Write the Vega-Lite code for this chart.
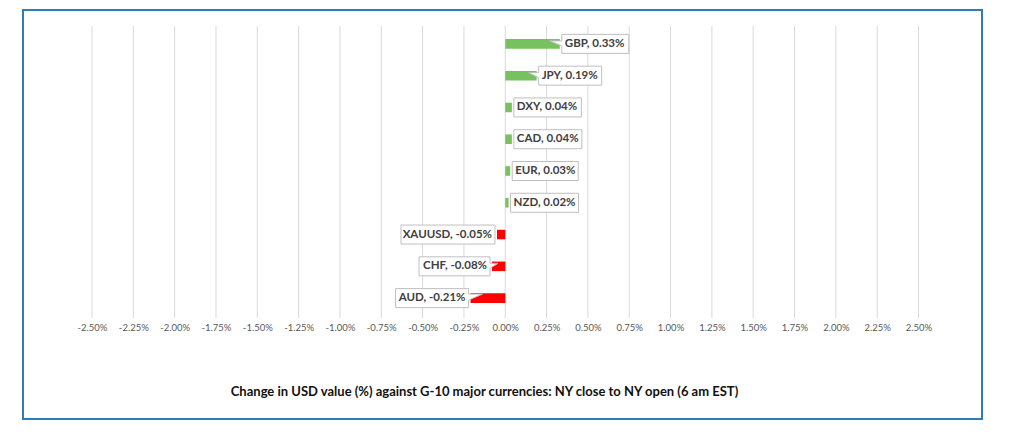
{
  "$schema": "https://vega.github.io/schema/vega-lite/v6.json",
  "width": 959,
  "height": 409,
  "autosize": {"type": "none"},
  "padding": {"left": 23, "top": 10, "right": 42, "bottom": 17},
  "background": "white",
  "config": {
    "view": {"stroke": "#2E7EB3", "strokeWidth": 2, "fill": "white"},
    "font": "Lato"
  },
  "datasets": {
    "fx": [
      {"currency": "GBP", "change": 0.33, "label": "GBP, 0.33%"},
      {"currency": "JPY", "change": 0.19, "label": "JPY, 0.19%"},
      {"currency": "DXY", "change": 0.04, "label": "DXY, 0.04%"},
      {"currency": "CAD", "change": 0.04, "label": "CAD, 0.04%"},
      {"currency": "EUR", "change": 0.03, "label": "EUR, 0.03%"},
      {"currency": "NZD", "change": 0.02, "label": "NZD, 0.02%"},
      {"currency": "XAUUSD", "change": -0.05, "label": "XAUUSD, -0.05%"},
      {"currency": "CHF", "change": -0.08, "label": "CHF, -0.08%"},
      {"currency": "AUD", "change": -0.21, "label": "AUD, -0.21%"}
    ],
    "ticks": [
      {"tick": -2.5}, {"tick": -2.25}, {"tick": -2.0}, {"tick": -1.75}, {"tick": -1.5},
      {"tick": -1.25}, {"tick": -1.0}, {"tick": -0.75}, {"tick": -0.5}, {"tick": -0.25},
      {"tick": 0.0}, {"tick": 0.25}, {"tick": 0.5}, {"tick": 0.75}, {"tick": 1.0},
      {"tick": 1.25}, {"tick": 1.5}, {"tick": 1.75}, {"tick": 2.0}, {"tick": 2.25}, {"tick": 2.5}
    ]
  },
  "resolve": {"scale": {"y": "independent"}},
  "layer": [
    {
      "data": {"name": "ticks"},
      "mark": {"type": "rule", "color": "#D9D9D9", "strokeWidth": 1},
      "encoding": {
        "x": {"field": "tick", "type": "quantitative"},
        "y": {"datum": 0, "type": "quantitative", "scale": {"domain": [0, 1], "range": [16, 308]}, "axis": null},
        "y2": {"datum": 1}
      }
    },
    {
      "layer": [
        {
          "data": {"name": "fx"},
          "mark": {"type": "bar"},
          "encoding": {
            "x": {
              "field": "change",
              "type": "quantitative",
              "scale": {"domain": [-2.5, 2.5], "range": [69, 895.5], "nice": false, "zero": false},
              "axis": {
                "values": [-2.5, -2.25, -2.0, -1.75, -1.5, -1.25, -1.0, -0.75, -0.5, -0.25, 0, 0.25, 0.5, 0.75, 1.0, 1.25, 1.5, 1.75, 2.0, 2.25, 2.5],
                "labelExpr": "(datum.value < 0 ? '-' : '') + format(abs(datum.value), '.2f') + '%'",
                "domain": false,
                "ticks": false,
                "tickSize": 0,
                "grid": false,
                "offset": -101,
                "labelPadding": 4,
                "labelFont": "Lato",
                "labelFontSize": 9.5,
                "labelColor": "#595959",
                "labelFlush": false,
                "labelOverlap": false,
                "title": "Change in  USD value (%)  against  G-10 major currencies:  NY close to NY open  (6 am EST)",
                "titleX": 461,
                "titleY": 73,
                "titleAlign": "center",
                "titleBaseline": "middle",
                "titleFont": "Lato",
                "titleFontSize": 13,
                "titleFontWeight": "bold",
                "titleColor": "#111111"
              }
            },
            "y": {
              "field": "currency",
              "type": "nominal",
              "scale": {
                "domain": ["GBP", "JPY", "DXY", "CAD", "EUR", "NZD", "XAUUSD", "CHF", "AUD"],
                "range": [18, 304],
                "paddingInner": 0.7,
                "paddingOuter": 0.35
              },
              "axis": null
            },
            "color": {
              "condition": {"test": "datum.change > 0", "value": "#77C25F"},
              "value": "#FF0000"
            }
          }
        },
        {
          "data": {"name": "fx"},
          "mark": {"type": "point", "filled": true, "fill": "white", "stroke": "#BFBFBF", "strokeWidth": 1, "size": 4, "opacity": 1},
          "encoding": {
            "x": {"field": "change", "type": "quantitative"},
            "y": {"field": "currency", "type": "nominal"},
            "shape": {
              "field": "currency",
              "type": "nominal",
              "legend": null,
              "scale": {
                "domain": ["GBP", "JPY", "DXY", "CAD", "EUR", "NZD", "XAUUSD", "CHF", "AUD"],
                "range": [
                  "M2,-9.5 L69,-9.5 L69,9.5 L2,9.5 L2,2 L-10,-3 L2,-3 Z",
                  "M2,-9.5 L65,-9.5 L65,9.5 L2,9.5 L2,2 L-8,-3 L2,-3 Z",
                  "M2,-9.5 L69.5,-9.5 L69.5,9.5 L2,9.5 Z",
                  "M2,-9.5 L70,-9.5 L70,9.5 L2,9.5 Z",
                  "M2,-9.5 L68,-9.5 L68,9.5 L2,9.5 Z",
                  "M2,-9.5 L70,-9.5 L70,9.5 L2,9.5 Z",
                  "M-2,-9.5 L-96,-9.5 L-96,9.5 L-2,9.5 Z",
                  "M-2,-9.5 L-73,-9.5 L-73,9.5 L-2,9.5 L-2,2 L6,-3 L-2,-3 Z",
                  "M-2,-9.5 L-75,-9.5 L-75,9.5 L-2,9.5 L-2,2 L12,-4 L-2,-4 Z"
                ]
              }
            }
          }
        },
        {
          "data": {"name": "fx"},
          "transform": [{"filter": "datum.change > 0"}],
          "mark": {"type": "text", "align": "left", "baseline": "middle", "dx": 5, "font": "Lato", "fontSize": 11.5, "fontWeight": "bold", "color": "#404040"},
          "encoding": {
            "x": {"field": "change", "type": "quantitative"},
            "y": {"field": "currency", "type": "nominal"},
            "text": {"field": "label"}
          }
        },
        {
          "data": {"name": "fx"},
          "transform": [{"filter": "datum.change < 0"}],
          "mark": {"type": "text", "align": "right", "baseline": "middle", "dx": -5, "font": "Lato", "fontSize": 11.5, "fontWeight": "bold", "color": "#404040"},
          "encoding": {
            "x": {"field": "change", "type": "quantitative"},
            "y": {"field": "currency", "type": "nominal"},
            "text": {"field": "label"}
          }
        }
      ]
    }
  ]
}
